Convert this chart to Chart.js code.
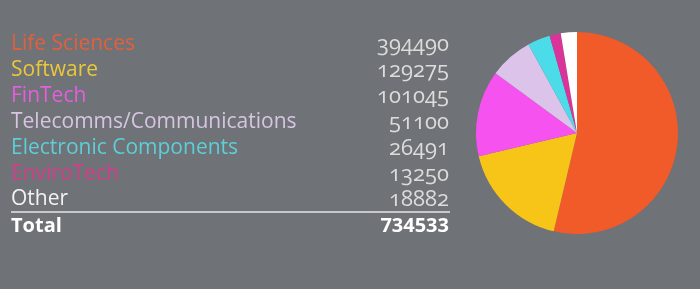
<!DOCTYPE html>
<html>
<head>
<meta charset="utf-8">
<script src="https://cdn.jsdelivr.net/npm/chart.js@4"></script>
<style>
  html, body { margin: 0; padding: 0; }
  body { width: 700px; height: 289px; background: #6f7276; position: relative; overflow: hidden; font-family: "Open Sans", sans-serif; }
  #chartBox { position: absolute; left: 0; top: 0; width: 700px; height: 289px; }
  .row { position: absolute; left: 11px; width: 438px; height: 26px; font-size: 21px; line-height: 26px; }
  .row .lbl { position: absolute; left: 0; }
  .row .val { position: absolute; right: 0; color: #dcdcdc; font-size: 22px; font-feature-settings: "onum"; font-variant-numeric: oldstyle-nums; }
  .total { font-weight: bold; color: #ffffff; font-size: 20px; }
  .total .val { color: #ffffff; font-size: 20px; font-variant-numeric: normal; font-feature-settings: normal; }
  #rule { position: absolute; left: 11px; top: 211px; width: 439px; height: 2px; background: #c8c9cb; }
</style>
</head>
<body>
<div id="chartBox"><canvas id="myChart"></canvas></div>
<div id="table_here"></div>
<div id="rule"></div>
<script>
// categories and values
var categories = ["Life Sciences", "Software", "FinTech", "Telecomms/Communications", "Electronic Components", "EnviroTech", "Other"];
var values = [394490, 129275, 101045, 51100, 26491, 13250, 18882];
var totalLabel = "Total";
var totalValue = 734533;

// colours for the slices and for the text in the table
var sliceColors = ["#f15a29", "#f7c517", "#f652f0", "#dcc3ea", "#4cdbe8", "#d9349a", "#ffffff"];
var textColors = ["#e2603c", "#e9c83a", "#e45ee0", "#d8c5e2", "#5ccfd8", "#d43d8c", "#f2f2f2"];

// build the table rows
var content = "";
for (let i = 0; i < categories.length; i++) {
    content += "<div class=\"row\" style=\"top:" + (29 + i * 25.9) + "px\">" +
               "<span class=\"lbl\" style=\"color:" + textColors[i] + "\">" + categories[i] + "</span>" +
               "<span class=\"val\">" + values[i] + "</span></div>";
}
content += "<div class=\"row total\" style=\"top:212px\">" +
           "<span class=\"lbl\">" + totalLabel + "</span>" +
           "<span class=\"val\">" + totalValue + "</span></div>";
document.getElementById("table_here").innerHTML = content;

// pie chart
var ctx = document.getElementById('myChart').getContext('2d');
var chart = new Chart(ctx, {
    type: 'pie',
    data: {
        labels: categories,
        datasets: [{
            data: values,
            backgroundColor: sliceColors,
            borderWidth: 0
        }]
    },
    options: {
        responsive: true,
        maintainAspectRatio: false,
        animation: false,
        layout: {
            padding: { left: 476, right: 22, top: 32, bottom: 55 }
        },
        plugins: {
            legend: { display: false },
            tooltip: { enabled: false }
        }
    }
});
</script>
</body>
</html>
